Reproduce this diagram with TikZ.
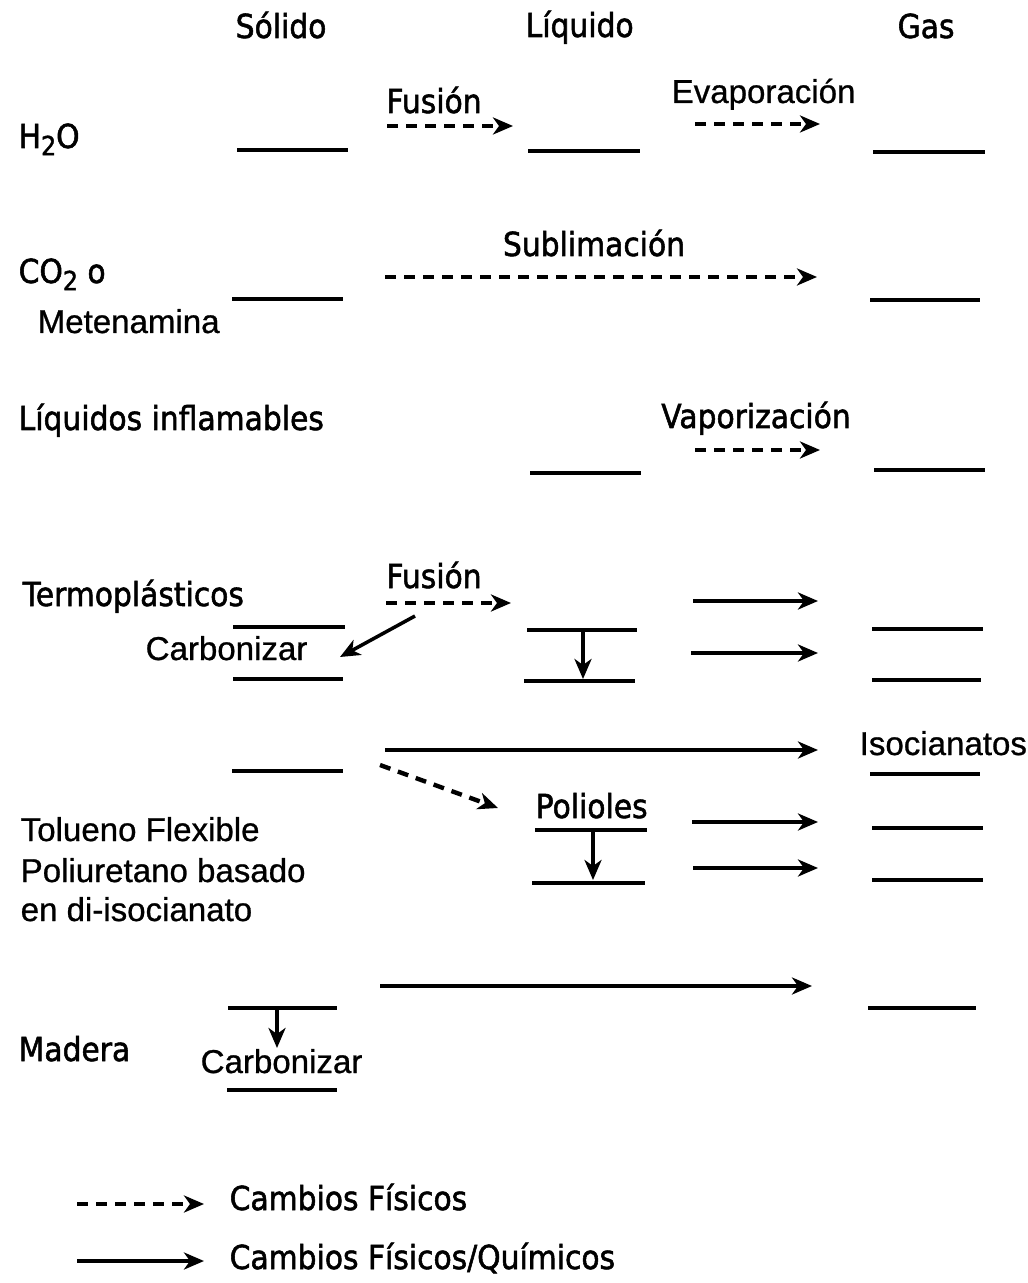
\documentclass[tikz,border=0pt]{standalone}
\usepackage{fontspec}
\setmainfont{DejaVu Sans}[FakeStretch=0.9,FakeBold=1.6]
\newfontfamily\arialf{Liberation Sans}[FakeBold=0.8]
\usetikzlibrary{arrows.meta}
\newcommand{\subtwo}{\raisebox{-0.4ex}{\fontsize{7.5pt}{7.5pt}\selectfont 2}}
\begin{document}
\begin{tikzpicture}[x=0.01cm,y=-0.01cm,
  level/.style={line width=1.3pt},
  thinlevel/.style={line width=0.9pt},
  chem/.style={line width=1pt,-{Stealth[length=0.2cm,width=0.17cm,inset=0.06cm]}},
  phys/.style={chem, line width=1.25pt, dash pattern=on 0.11cm off 0.08cm},
  lbl/.style={inner sep=0pt, font=\fontsize{9.4pt}{11pt}\selectfont},
  albl/.style={inner sep=0pt, font=\arialf\fontsize{9.4pt}{11pt}\selectfont},
]
\useasboundingbox (0,0) rectangle (1027,1283);

% headers
\node[lbl, anchor=base west] (hsol) at (235,38) {Sólido};
\node[lbl, anchor=base west] (hliq) at (525,37) {Líquido};
\node[lbl, anchor=base west] (hgas) at (897,38) {Gas};

% ---------- H2O ----------
\node[lbl, anchor=base west] (h2o) at (18,148) {H\subtwo O};
\coordinate (s1a) at (237,150); \coordinate (s1b) at (348,150);
\coordinate (l1a) at (528,151); \coordinate (l1b) at (640,151);
\coordinate (g1a) at (873,152); \coordinate (g1b) at (985,152);
\draw[level] (s1a) -- (s1b);
\draw[level] (l1a) -- (l1b);
\draw[level] (g1a) -- (g1b);
\node[lbl, anchor=base] (fus1) at (434,113) {Fusión};
\node[albl, anchor=base west] (evap) at (671,103) {Evaporación};
\coordinate (f1a) at (387,126); \coordinate (f1b) at (513,126);
\coordinate (e1a) at (695,124); \coordinate (e1b) at (820,124);
\draw[phys] (f1a) -- (f1b);
\draw[phys] (e1a) -- (e1b);

% ---------- CO2 ----------
\node[lbl, anchor=base west] (co2) at (18,283) {CO\subtwo{} o};
\node[albl, anchor=base west] (meten) at (37,333) {Metenamina};
\coordinate (s2a) at (232,299); \coordinate (s2b) at (343,299);
\coordinate (g2a) at (870,300); \coordinate (g2b) at (980,300);
\draw[level] (s2a) -- (s2b);
\draw[level] (g2a) -- (g2b);
\node[lbl, anchor=base] (subl) at (594,256) {Sublimación};
\coordinate (sub1a) at (385,277); \coordinate (sub1b) at (817,277);
\draw[phys] (sub1a) -- (sub1b);

% ---------- Liquidos inflamables ----------
\node[lbl, anchor=base west] (liqinf) at (18,430) {Líquidos inflamables};
\node[lbl, anchor=base] (vapo) at (756,428) {Vaporización};
\coordinate (v1a) at (695,450); \coordinate (v1b) at (820,450);
\draw[phys] (v1a) -- (v1b);
\coordinate (l3a) at (530,473); \coordinate (l3b) at (641,473);
\coordinate (g3a) at (874,470); \coordinate (g3b) at (985,470);
\draw[level] (l3a) -- (l3b);
\draw[level] (g3a) -- (g3b);

% ---------- Termoplasticos ----------
\node[lbl, anchor=base west] (termo) at (22,606) {Termoplásticos};
\node[lbl, anchor=base] (fus2) at (434,588) {Fusión};
\coordinate (f2a) at (386,603); \coordinate (f2b) at (511,603);
\draw[phys] (f2a) -- (f2b);
\coordinate (s4a) at (233,627); \coordinate (s4b) at (345,627);
\coordinate (s4c) at (233,679); \coordinate (s4d) at (343,679);
\draw[level] (s4a) -- (s4b);
\draw[level] (s4c) -- (s4d);
\node[albl, anchor=base west] (carb1) at (145,660) {Carbonizar};
\coordinate (c1a) at (415,616); \coordinate (c1b) at (340,657);
\draw[chem] (c1a) -- (c1b);
\coordinate (l4a) at (527,630); \coordinate (l4b) at (637,630);
\coordinate (l4c) at (524,681); \coordinate (l4d) at (635,681);
\draw[level] (l4a) -- (l4b);
\draw[level] (l4c) -- (l4d);
\coordinate (d4a) at (583,630); \coordinate (d4b) at (583,679);
\draw[chem] (d4a) -- (d4b);
\coordinate (t4a) at (693,601); \coordinate (t4b) at (818,601);
\coordinate (t4c) at (691,653); \coordinate (t4d) at (818,653);
\draw[chem] (t4a) -- (t4b);
\draw[chem] (t4c) -- (t4d);
\coordinate (g4a) at (872,629); \coordinate (g4b) at (983,629);
\coordinate (g4c) at (872,680); \coordinate (g4d) at (981,680);
\draw[level] (g4a) -- (g4b);
\draw[level] (g4c) -- (g4d);

% ---------- Poliuretano ----------
\coordinate (s5a) at (232,771); \coordinate (s5b) at (343,771);
\draw[level] (s5a) -- (s5b);
\coordinate (p5a) at (385,750); \coordinate (p5b) at (818,750);
\draw[chem] (p5a) -- (p5b);
\node[albl, anchor=base west] (iso) at (859,755) {Isocianatos};
\coordinate (g5a) at (870,774); \coordinate (g5b) at (980,774);
\draw[level] (g5a) -- (g5b);
\coordinate (q5a) at (380,765); \coordinate (q5b) at (498,808);
\draw[phys] (q5a) -- (q5b);
\node[lbl, anchor=base west] (polio) at (535,818) {Polioles};
\coordinate (l5a) at (535,830); \coordinate (l5b) at (647,830);
\coordinate (l5c) at (532,883); \coordinate (l5d) at (645,883);
\draw[level] (l5a) -- (l5b);
\draw[level] (l5c) -- (l5d);
\coordinate (d5a) at (593,830); \coordinate (d5b) at (593,880);
\draw[chem] (d5a) -- (d5b);
\coordinate (t5a) at (692,822); \coordinate (t5b) at (818,822);
\coordinate (t5c) at (693,868); \coordinate (t5d) at (818,868);
\draw[chem] (t5a) -- (t5b);
\draw[chem] (t5c) -- (t5d);
\coordinate (g5c) at (872,828); \coordinate (g5d) at (983,828);
\coordinate (g5e) at (872,880); \coordinate (g5f) at (983,880);
\draw[level] (g5c) -- (g5d);
\draw[level] (g5e) -- (g5f);
\node[albl, anchor=base west] (tol1) at (20,841) {Tolueno Flexible};
\node[albl, anchor=base west] (tol2) at (20,882) {Poliuretano basado};
\node[albl, anchor=base west] (tol3) at (20,921) {en di-isocianato};

% ---------- Madera ----------
\node[lbl, anchor=base west] (madera) at (18,1061) {Madera};
\coordinate (s6a) at (228,1008); \coordinate (s6b) at (337,1008);
\coordinate (s6c) at (227,1090); \coordinate (s6d) at (337,1090);
\draw[level] (s6a) -- (s6b);
\draw[level] (s6c) -- (s6d);
\coordinate (d6a) at (277,1008); \coordinate (d6b) at (277,1048);
\draw[chem] (d6a) -- (d6b);
\node[albl, anchor=base west] (carb2) at (200,1073) {Carbonizar};
\coordinate (m6a) at (380,986); \coordinate (m6b) at (812,986);
\draw[chem] (m6a) -- (m6b);
\coordinate (g6a) at (868,1008); \coordinate (g6b) at (976,1008);
\draw[thinlevel] (g6a) -- (g6b);

% ---------- Legend ----------
\coordinate (lg1a) at (77,1204); \coordinate (lg1b) at (204,1204);
\draw[phys] (lg1a) -- (lg1b);
\node[lbl, anchor=base west] (lgt1) at (229,1210) {Cambios Físicos};
\coordinate (lg2a) at (77,1261); \coordinate (lg2b) at (204,1261);
\draw[chem] (lg2a) -- (lg2b);
\node[lbl, anchor=base west] (lgt2) at (229,1269) {Cambios Físicos/Químicos};
\end{tikzpicture}
\end{document}
